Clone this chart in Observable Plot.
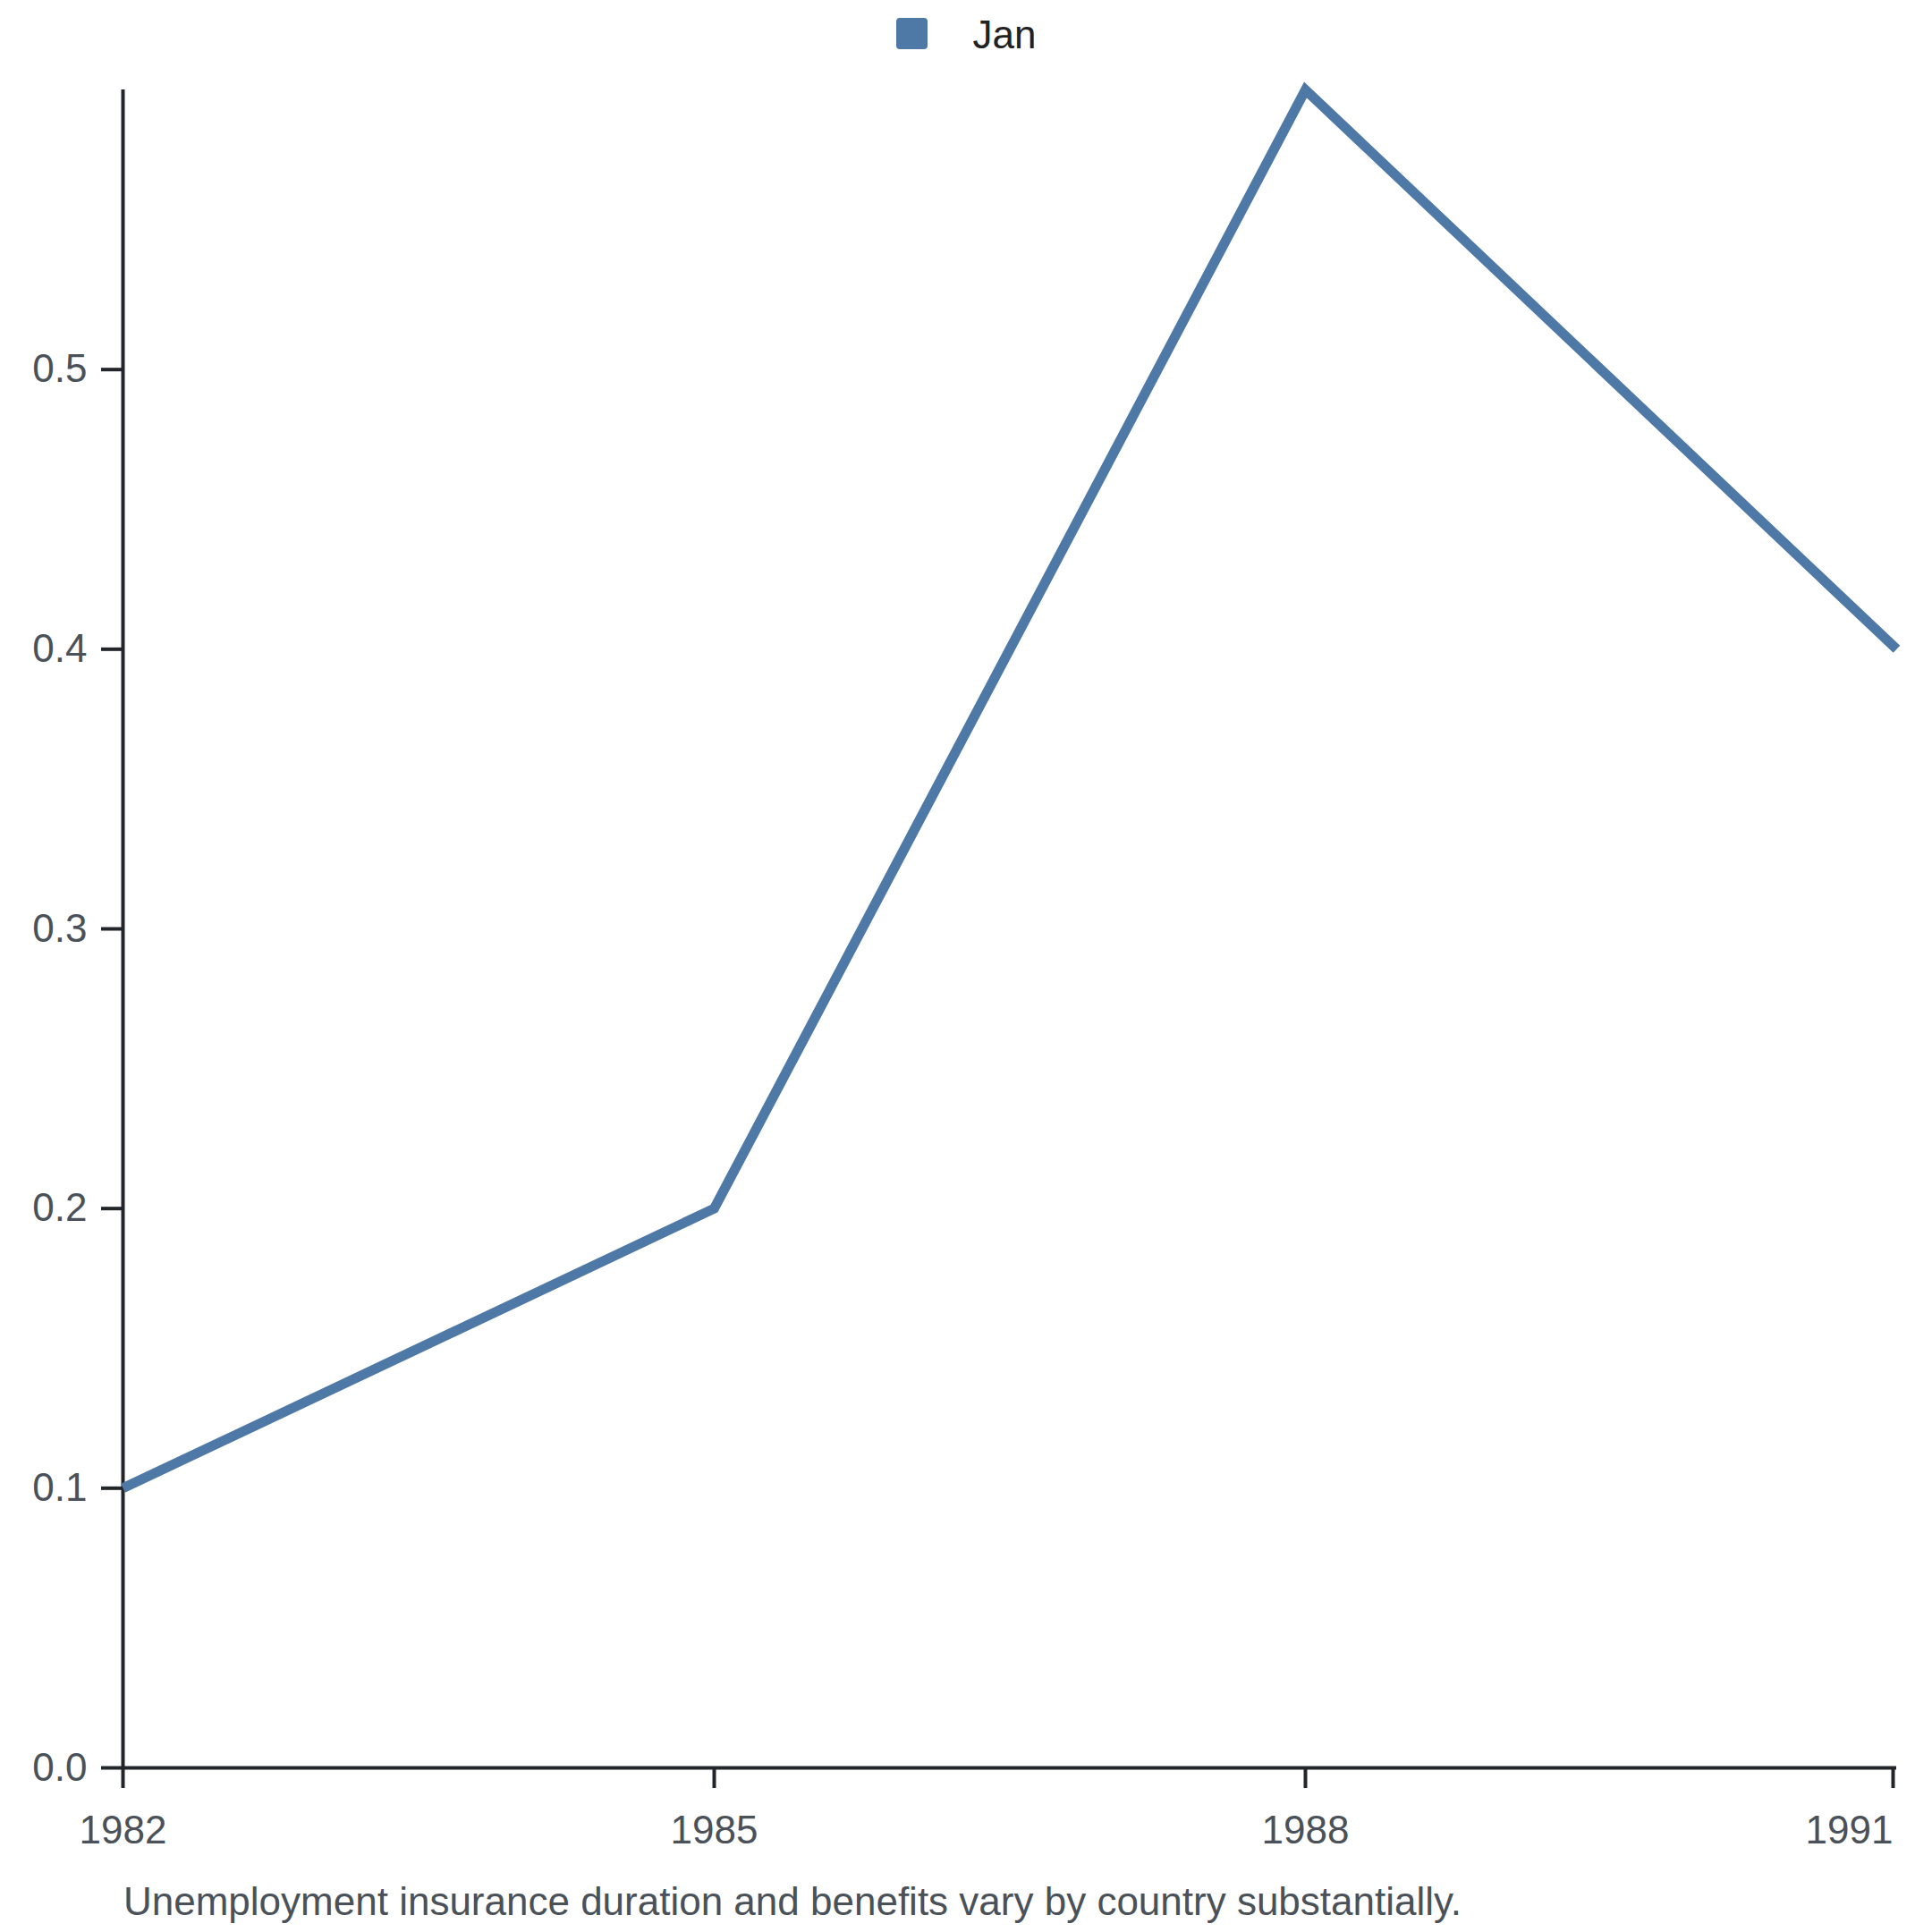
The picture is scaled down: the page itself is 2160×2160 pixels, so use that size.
<!DOCTYPE html>
<html>
<head>
<meta charset="utf-8">
<script src="https://cdn.jsdelivr.net/npm/d3@7"></script>
<script src="https://cdn.jsdelivr.net/npm/@observablehq/plot@0.6"></script>
<style>
  html, body { margin: 0; padding: 0; background: #fff; }
  body { width: 2160px; font-family: "Liberation Sans", Arial, sans-serif; }
  #legend { height: 70px; display: flex; justify-content: center; align-items: flex-start; }
  #legend .item { display: flex; align-items: center; margin-top: 20px; }
  #legend .sw { width: 35px; height: 35px; border-radius: 4px; background: #4e79a7; margin-right: 51px; }
  #legend .lbl { font-size: 44px; color: #222; line-height: 35px; position: relative; top: 1px; }
  #caption { font-size: 44px; color: #4a5159; padding-left: 138px; padding-top: 20px; line-height: 1.2; }
  svg { display: block; }
</style>
</head>
<body>
<div id="legend"></div>
<div id="chart"></div>
<div id="caption"></div>
<script>
const years = [1982, 1985, 1988, 1991];
const values = [0.1, 0.2, 0.6, 0.4];
const seriesName = "Jan";
const yTicks = [0, 0.1, 0.2, 0.3, 0.4, 0.5];
const xTicks = [1982, 1985, 1988, 1991];
const captionText = "Unemployment insurance duration and benefits vary by country substantially.";
const lineColor = "#4e79a7";

const data = years.map((y, i) => ({year: y, value: values[i]}));

document.getElementById("legend").innerHTML =
  `<div class="item"><div class="sw"></div><div class="lbl">${seriesName}</div></div>`;
document.getElementById("caption").textContent = captionText;

const axisStroke = "#22252a";
const labelFill = "#4a5159";

const chart = Plot.plot({
  width: 2160,
  height: 2010,
  marginTop: 30,
  marginBottom: 104,
  marginLeft: 137,
  marginRight: 40,
  style: { fontFamily: "Liberation Sans, Arial, sans-serif", fontSize: "44px", background: "#fff", overflow: "visible" },
  x: { domain: [1982, 1991] },
  y: { domain: [0, 0.6] },
  marks: [
    Plot.axisY(yTicks, { tickSize: 24, tickPadding: 16, strokeWidth: 4, stroke: axisStroke, fill: labelFill, tickFormat: d3.format(".1f"), label: null, fontSize: 44 }),
    Plot.axisX(xTicks.slice(0, -1), { tickSize: 23, tickPadding: 30, strokeWidth: 4, stroke: axisStroke, fill: labelFill, tickFormat: d => String(d), label: null, fontSize: 44 }),
    Plot.axisX(xTicks.slice(-1), { tickSize: 23, tickPadding: 30, strokeWidth: 4, stroke: axisStroke, fill: labelFill, tickFormat: d => String(d), label: null, fontSize: 44, textAnchor: "end", dx: -4 }),
    Plot.ruleX([years[0]], { stroke: axisStroke, strokeWidth: 4 }),
    Plot.ruleY([0], { stroke: axisStroke, strokeWidth: 4 }),
    Plot.line(data, { x: "year", y: "value", stroke: lineColor, strokeWidth: 11, strokeLinejoin: "miter", strokeLinecap: "butt", strokeMiterlimit: 4 })
  ]
});
document.getElementById("chart").appendChild(chart);
</script>
</body>
</html>
